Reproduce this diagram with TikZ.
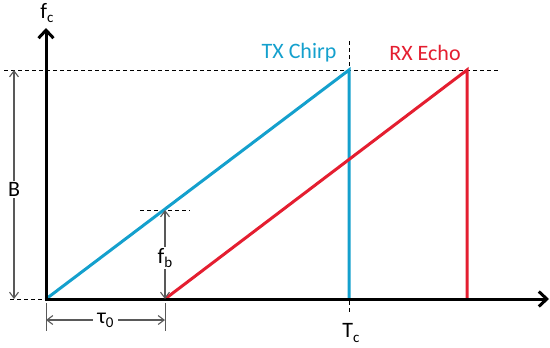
\documentclass[tikz,border=0pt]{standalone}
\usepackage{fontspec}
\setmainfont{Carlito}
\usetikzlibrary{arrows.meta,positioning,calc}
\definecolor{txblue}{RGB}{20,160,205}
\definecolor{rxred}{RGB}{228,30,48}
\tikzset{
  axis/.style={line width=3pt, -{Straight Barb[length=8pt,width=15pt,line width=3pt]}},
  chirp/.style={line width=3pt},
  guide/.style={dash pattern=on 4pt off 3pt, line width=0.9pt},
  dim/.style={{Straight Barb[length=6pt,width=9pt]}-{Straight Barb[length=6pt,width=9pt]},
              line width=1.1pt, draw=black!65},
  tick/.style={line width=1pt, draw=black!65},
  lbl/.style={font=\fontsize{22}{24}\selectfont, inner sep=1.5pt},
}
\newcommand{\sub}[1]{\raisebox{-0.4ex}{\fontsize{15}{15}\selectfont #1}}

\begin{document}
\begin{tikzpicture}[x=1pt,y=-1pt]
  \useasboundingbox (0,0) rectangle (550,348);
  % corner points
  \coordinate (o) at (46,299);
  \coordinate (ytop) at (46,28);
  \coordinate (xend) at (549,299);
  \coordinate (txtop) at (349,70);
  \coordinate (txbot) at (349,299);
  \coordinate (rxbeg) at (165,299);
  \coordinate (rxtop) at (467,70);
  \coordinate (rxbot) at (467,299);
  \coordinate (fbtop) at (165,210);

  % dashed guides
  \draw[guide] (4,70) -- (500,70);
  \draw[guide] (349,41) -- (txtop);
  \draw[guide] (349,301) -- (349,313);
  \draw[guide] (10,299) -- (o);
  \draw[guide] (140,210) -- (190,210);

  % chirps
  \draw[chirp,txblue] (o) -- (txtop) -- (txbot);
  \draw[chirp,rxred] (rxbeg) -- (rxtop) -- (rxbot);

  % axes
  \draw[axis] (46,301) -- (ytop);
  \draw[axis] (44.5,299) -- (xend);

  % dimensions
  \coordinate (bt) at (14,70);
  \coordinate (bb) at (14,299);
  \draw[dim] (bt) -- node[lbl,fill=white,pos=0.52] (b) {B} (bb);
  \draw[dim] (fbtop) -- node[lbl,fill=white,pos=0.54] (fb) {f\sub{b}} (rxbeg);
  \draw[tick] (46,303) -- (46,331);
  \draw[tick] (165,303) -- (165,331);
  \coordinate (tl) at (46,320);
  \coordinate (tr) at (165,320);
  \draw[dim] (tl) -- node[lbl,fill=white,inner xsep=4pt] (tau) {τ\sub{0}} (tr);

  % labels
  \node[lbl,txblue] (tx) at (299,53) {TX Chirp};
  \node[lbl,rxred] (rx) at (425,53) {RX Echo};
  \node[lbl] (fc) at (47,13) {f\sub{c}};
  \node[lbl] (tc) at (351,333) {T\sub{c}};
\end{tikzpicture}
\end{document}
